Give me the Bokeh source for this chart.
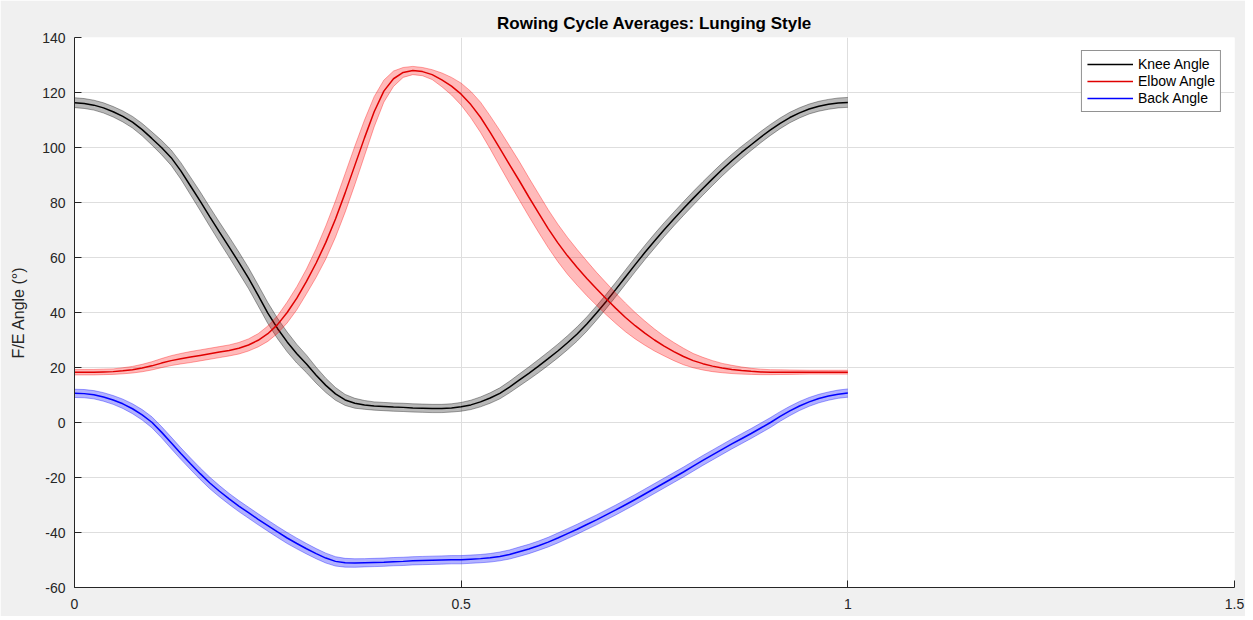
from bokeh.plotting import figure
from bokeh.models import FixedTicker, Legend, LegendItem
from bokeh.embed import file_html
from bokeh.resources import INLINE
import numpy as np

# ---- data ----
cycle = [0.0, 0.0125, 0.025, 0.0375, 0.05, 0.0625, 0.075, 0.0875, 0.1,
         0.1125, 0.125, 0.1375, 0.15, 0.1625, 0.175, 0.1875, 0.2,
         0.2125, 0.225, 0.2375, 0.25, 0.2625, 0.275, 0.2875, 0.3,
         0.3125, 0.325, 0.3375, 0.35, 0.3625, 0.375, 0.3875, 0.4,
         0.4125, 0.425, 0.4375, 0.45, 0.4625, 0.475, 0.4875, 0.5,
         0.5125, 0.525, 0.5375, 0.55, 0.5625, 0.575, 0.5875, 0.6,
         0.6125, 0.625, 0.6375, 0.65, 0.6625, 0.675, 0.6875, 0.7,
         0.7125, 0.725, 0.7375, 0.75, 0.7625, 0.775, 0.7875, 0.8,
         0.8125, 0.825, 0.8375, 0.85, 0.8625, 0.875, 0.8875, 0.9,
         0.9125, 0.925, 0.9375, 0.95, 0.9625, 0.975, 0.9875, 1.0]

knee_mean = [116.3, 116.0, 115.4, 114.4, 113.0, 111.3, 109.2, 106.5, 103.3,
             100.0, 96.3, 91.5, 86.0, 80.5, 74.8, 69.2, 63.8,
             58.2, 52.5, 46.2, 39.8, 34.2, 29.3, 25.0, 21.3,
             17.2, 13.5, 10.4, 8.2, 7.0, 6.4, 6.0, 5.8,
             5.6, 5.5, 5.3, 5.2, 5.1, 5.1, 5.3, 5.7,
             6.4, 7.5, 8.9, 10.6, 12.9, 15.4, 17.9, 20.5,
             23.2, 26.0, 29.0, 32.2, 35.8, 39.8, 44.0, 48.4,
             52.9, 57.4, 61.8, 66.0, 70.1, 74.0, 77.8, 81.5,
             85.1, 88.6, 92.0, 95.2, 98.2, 101.0, 103.8, 106.4,
             108.8, 110.9, 112.6, 114.0, 115.0, 115.7, 116.2, 116.4]
knee_sd = [1.8, 1.8, 1.8, 1.85, 1.9, 2.0, 2.1, 2.25, 2.4,
           2.6, 2.8, 3.0, 3.2, 3.4, 3.5, 3.6, 3.7,
           3.8, 3.8, 3.8, 3.8, 3.7, 3.6, 3.4, 3.2,
           2.9, 2.6, 2.3, 2.0, 1.8, 1.6, 1.5, 1.5,
           1.5, 1.5, 1.5, 1.5, 1.5, 1.5, 1.5, 1.6,
           1.7, 1.8, 1.9, 2.0, 2.1, 2.2, 2.3, 2.4,
           2.45, 2.5, 2.55, 2.6, 2.6, 2.6, 2.6, 2.6,
           2.6, 2.6, 2.6, 2.6, 2.55, 2.5, 2.5, 2.5,
           2.45, 2.4, 2.35, 2.3, 2.2, 2.1, 2.05, 2.0,
           1.95, 1.9, 1.85, 1.8, 1.8, 1.8, 1.8, 1.8]

elbow_mean = [18.3, 18.3, 18.3, 18.4, 18.5, 18.8, 19.2, 19.8, 20.6,
              21.6, 22.5, 23.2, 23.8, 24.4, 25.0, 25.6, 26.2,
              27.0, 28.2, 29.9, 32.3, 35.6, 40.0, 45.2, 51.3,
              58.0, 65.5, 74.0, 83.5, 93.5, 103.5, 113.0, 120.5,
              125.0, 127.3, 128.0, 127.6, 126.5, 124.6, 122.3, 119.4,
              115.6, 111.0, 105.5, 99.7, 93.8, 88.0, 82.0, 76.2,
              70.5, 65.3, 60.6, 56.4, 52.4, 48.6, 45.0, 41.5,
              38.2, 35.2, 32.5, 30.0, 27.8, 25.8, 24.0, 22.5,
              21.4, 20.5, 19.8, 19.3, 18.9, 18.6, 18.4, 18.3,
              18.3, 18.3, 18.3, 18.3, 18.3, 18.3, 18.3, 18.3]
elbow_sd = [1.0, 1.0, 1.0, 1.0, 1.0, 1.1, 1.2, 1.35, 1.5,
            1.65, 1.8, 1.9, 2.0, 2.0, 2.0, 2.0, 2.0,
            2.1, 2.2, 2.4, 2.8, 3.2, 3.8, 4.2, 4.5,
            5.2, 6.0, 6.6, 7.0, 7.0, 6.5, 5.5, 4.0,
            2.8, 1.8, 1.5, 1.5, 1.8, 2.5, 3.2, 4.0,
            4.8, 5.5, 6.0, 6.5, 6.8, 7.0, 7.0, 7.0,
            6.9, 6.8, 6.7, 6.5, 6.3, 6.0, 5.8, 5.5,
            5.2, 4.8, 4.4, 4.0, 3.6, 3.3, 3.0, 2.6,
            2.3, 2.0, 1.7, 1.5, 1.3, 1.1, 1.0, 0.9,
            0.85, 0.8, 0.75, 0.7, 0.7, 0.7, 0.7, 0.7]

back_mean = [10.6, 10.5, 10.1, 9.3, 8.2, 6.8, 5.0, 2.8, 0.1,
             -3.5, -7.4, -11.3, -15.0, -18.6, -22.0, -25.0, -27.8,
             -30.4, -32.8, -35.2, -37.5, -39.8, -42.0, -44.0, -45.9,
             -47.7, -49.3, -50.5, -51.0, -51.1, -51.0, -50.9, -50.8,
             -50.6, -50.5, -50.3, -50.2, -50.1, -50.0, -49.9, -49.9,
             -49.7, -49.5, -49.2, -48.7, -48.0, -47.0, -46.0, -44.8,
             -43.5, -42.0, -40.4, -38.8, -37.1, -35.4, -33.6, -31.8,
             -29.9, -28.0, -26.0, -24.0, -22.0, -20.0, -18.0, -15.9,
             -13.8, -11.8, -9.8, -7.8, -5.9, -4.0, -2.0, 0.0,
             2.2, 4.2, 6.0, 7.5, 8.7, 9.6, 10.3, 10.7]
back_sd = [1.5, 1.5, 1.5, 1.55, 1.6, 1.7, 1.8, 1.9, 2.0,
           2.05, 2.1, 2.1, 2.1, 2.1, 2.1, 2.05, 2.0,
           2.0, 2.0, 2.0, 2.0, 2.0, 2.0, 1.95, 1.9,
           1.85, 1.8, 1.7, 1.6, 1.55, 1.5, 1.5, 1.5,
           1.5, 1.5, 1.5, 1.5, 1.5, 1.5, 1.5, 1.5,
           1.5, 1.5, 1.55, 1.6, 1.65, 1.7, 1.7, 1.7,
           1.75, 1.8, 1.8, 1.8, 1.8, 1.8, 1.8, 1.8,
           1.8, 1.8, 1.8, 1.8, 1.8, 1.8, 1.8, 1.8,
           1.8, 1.8, 1.8, 1.8, 1.8, 1.8, 1.8, 1.8,
           1.75, 1.7, 1.65, 1.6, 1.55, 1.5, 1.5, 1.5]

series_names = ["Knee Angle", "Elbow Angle", "Back Angle"]
series_colors = ["#000000", "#e00000", "#0000ff"]
band_colors = ["#000000", "#ff0000", "#0000ff"]
band_alphas = [0.28, 0.27, 0.30]

x_ticks = [0, 0.5, 1, 1.5]
x_tick_labels = ["0", "0.5", "1", "1.5"]
y_ticks = [-60, -40, -20, 0, 20, 40, 60, 80, 100, 120, 140]
y_tick_labels = ["-60", "-40", "-20", "0", "20", "40", "60", "80", "100", "120", "140"]

FONT = "Liberation Sans"
TXT = "#262626"

p = figure(width=1245, height=616, output_backend="svg", toolbar_location=None,
           x_range=(0, 1.5), y_range=(-60, 140),
           title="Rowing Cycle Averages: Lunging Style")
p.min_border_left = 74
p.min_border_right = 11
p.min_border_top = 37
p.min_border_bottom = 29
p.border_fill_color = "#f0f0f0"
p.background_fill_color = "#ffffff"
p.outline_line_color = None

p.title.align = "center"
p.title.text_font = FONT
p.title.text_font_size = "17px"
p.title.text_font_style = "bold"
p.title.text_color = "#000000"

for ax in (p.xaxis[0], p.yaxis[0]):
    ax.axis_line_color = TXT
    ax.axis_line_width = 1
    ax.major_tick_in = 7
    ax.major_tick_out = 0
    ax.major_tick_line_color = TXT
    ax.minor_tick_line_color = None
    ax.major_label_text_font = FONT
    ax.major_label_text_font_size = "14px"
    ax.major_label_text_color = TXT

p.xaxis[0].ticker = FixedTicker(ticks=x_ticks)
p.xaxis[0].major_label_overrides = {t: l for t, l in zip(x_ticks, x_tick_labels)}
p.xaxis[0].major_label_standoff = 11
p.yaxis[0].ticker = FixedTicker(ticks=y_ticks)
p.yaxis[0].major_label_overrides = {t: l for t, l in zip(y_ticks, y_tick_labels)}
p.yaxis[0].major_label_standoff = 9
p.yaxis[0].axis_label = "F/E Angle (°)"
p.yaxis[0].axis_label_text_font = FONT
p.yaxis[0].axis_label_text_font_size = "16px"
p.yaxis[0].axis_label_text_font_style = "normal"
p.yaxis[0].axis_label_text_color = TXT
p.yaxis[0].axis_label_standoff = 12

p.xgrid.grid_line_color = "#dedede"
p.ygrid.grid_line_color = "#dedede"
p.xgrid.ticker = FixedTicker(ticks=x_ticks)
p.ygrid.ticker = FixedTicker(ticks=y_ticks)

x = np.array(cycle)
items = []
for name, mean, sd, lc, bc, ba in zip(series_names,
                                      [knee_mean, elbow_mean, back_mean],
                                      [knee_sd, elbow_sd, back_sd],
                                      series_colors, band_colors, band_alphas):
    m = np.array(mean)
    s = np.array(sd)
    lo = m - s
    hi = m + s
    p.varea(x=x, y1=lo, y2=hi, fill_color=bc, fill_alpha=ba)
    p.line(x, lo, line_color=bc, line_alpha=0.35, line_width=1)
    p.line(x, hi, line_color=bc, line_alpha=0.35, line_width=1)
    r = p.line(x, m, line_color=lc, line_width=1.5)
    items.append(LegendItem(label=name, renderers=[r]))

legend = Legend(items=items, location="top_right")
legend.border_line_color = TXT
legend.border_line_width = 1
legend.background_fill_color = "#ffffff"
legend.background_fill_alpha = 1
legend.label_text_font = FONT
legend.label_text_font_size = "14px"
legend.label_text_color = "#000000"
legend.glyph_width = 46
legend.glyph_height = 16
legend.label_height = 16
legend.label_standoff = 5
legend.spacing = 1
legend.padding = 5
legend.margin = 13
p.add_layout(legend)

open("out.html", "w").write(file_html(p, INLINE))
